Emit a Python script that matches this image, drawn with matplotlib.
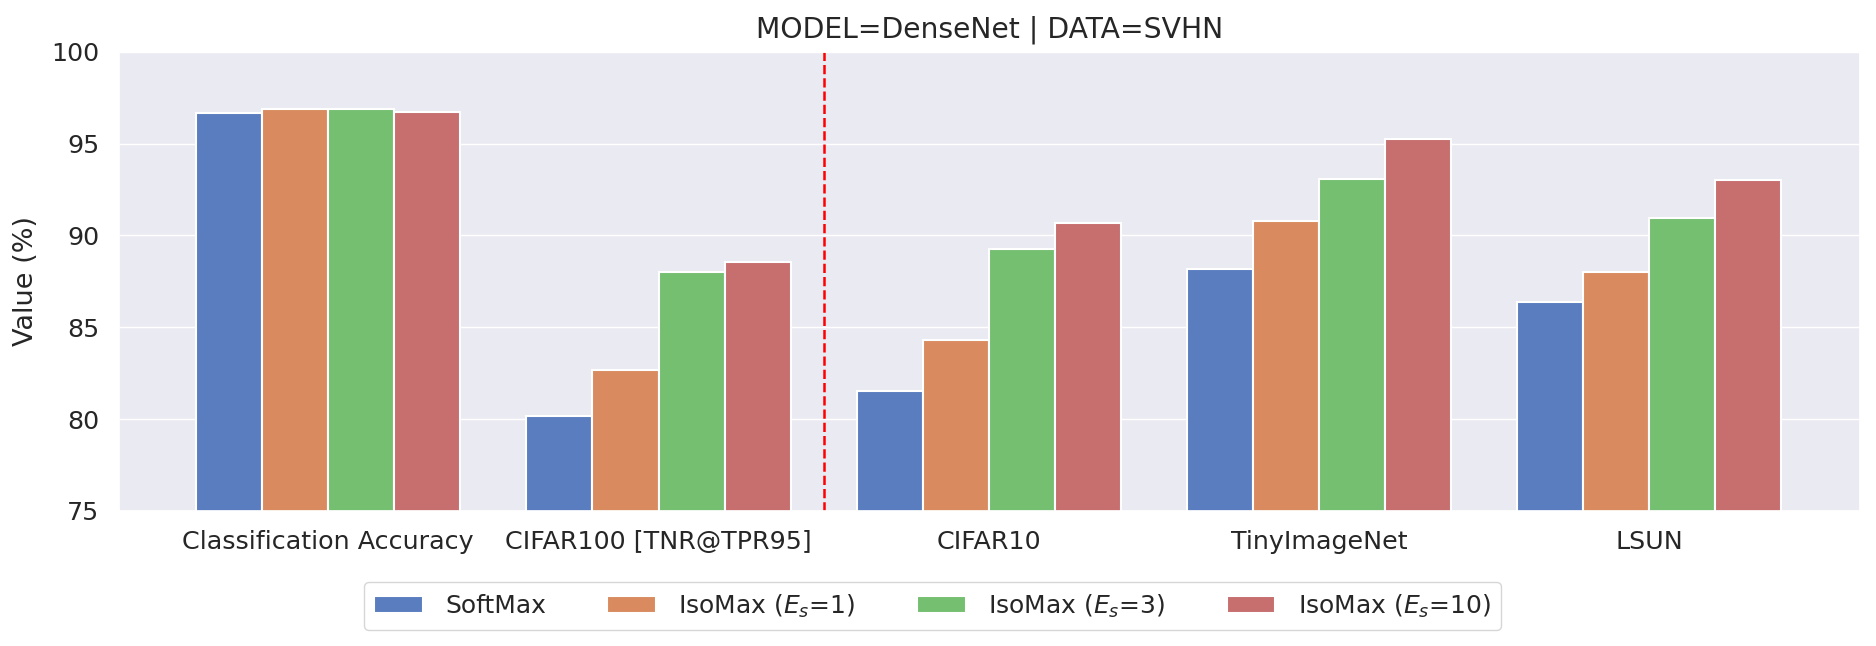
import numpy as np
import pandas as pd
import seaborn as sns
from matplotlib import pyplot as plt

categories = ['Classification Accuracy', 'CIFAR100 [TNR@TPR95]', 'CIFAR10',
              'TinyImageNet', 'LSUN']
methods = ['SoftMax', 'IsoMax ($E_s$=1)', 'IsoMax ($E_s$=3)', 'IsoMax ($E_s$=10)']
softmax = [96.67, 80.16, 81.51, 88.16, 86.39]
isomax_1 = [96.87, 82.67, 84.28, 90.81, 88.00]
isomax_3 = [96.87, 88.03, 89.26, 93.08, 90.92]
isomax_10 = [96.71, 88.56, 90.66, 95.25, 93.04]

rows = []
for method, values in zip(methods, [softmax, isomax_1, isomax_3, isomax_10]):
    for cat, v in zip(categories, values):
        rows.append({'Metric': cat, 'Method': method, 'Value': v})
df = pd.DataFrame(rows)

sns.set_theme(style='darkgrid')
plt.rcParams['font.family'] = ['DejaVu Sans']

fig = plt.figure(figsize=(18.76, 6.46), dpi=100)
ax = fig.add_axes([0.0634, 0.209, 0.928, 0.711])
sns.barplot(data=df, x='Metric', y='Value', hue='Method', palette='muted',
            edgecolor='white', linewidth=1.5, ax=ax)
ax.set_ylim(75, 100)
ax.set_xlim(-0.634, 4.638)
ax.axvline(1.5, color='red', linestyle='--', linewidth=1.8)
ax.set_xlabel('')
ax.set_ylabel('Value (%)', fontsize=19.5, labelpad=9)
ax.set_title('MODEL=DenseNet | DATA=SVHN', fontsize=20.3, pad=10)
ax.tick_params(axis='both', labelsize=18.3)
ax.tick_params(axis='x', pad=8)
ax.tick_params(axis='y', pad=8)
ax.set_yticks([75, 80, 85, 90, 95, 100])

handles, labels = ax.get_legend_handles_labels()
ax.get_legend().remove()
fig.legend(handles, labels, loc='center', bbox_to_anchor=(0.497, 0.062),
           ncol=4, fontsize=18, frameon=True, facecolor='white',
           edgecolor='#cccccc', handlelength=1.95, handletextpad=0.9,
           columnspacing=2.45)

fig.savefig('out.png', dpi=100)
